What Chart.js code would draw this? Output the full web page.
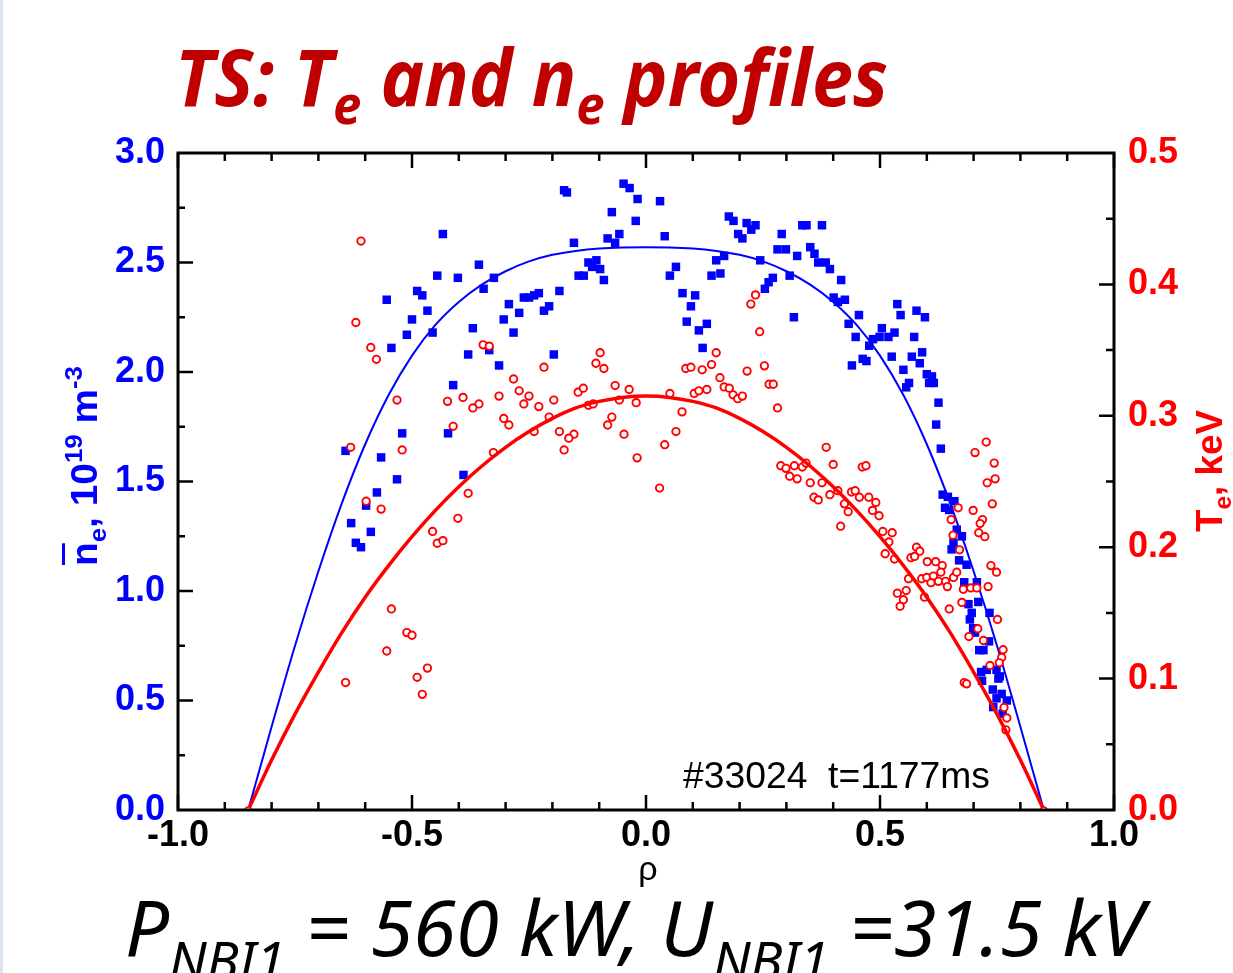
<!DOCTYPE html>
<html>
<head>
<meta charset="utf-8">
<script src="https://cdn.jsdelivr.net/npm/chart.js@4.4.1/dist/chart.umd.min.js"></script>
<style>
  html, body { margin: 0; padding: 0; background: #fff; overflow: hidden; }
  canvas { display: block; }
</style>
</head>
<body>
<canvas id="tsChart" width="1233" height="973"></canvas>
<script>
// tick labels
const rhoTicks = [-1, -0.5, 0, 0.5, 1];
const neTicks = [0, 0.5, 1, 1.5, 2, 2.5, 3];
const teTicks = [0, 0.1, 0.2, 0.3, 0.4, 0.5];

// n_e measurements (blue squares), 10^19 m^-3
const neRho = [-0.434,-0.175,-0.169,-0.554,-0.489,-0.478,-0.446,-0.402,-0.357,-0.325,-0.347,-0.467,-0.500,-0.511,-0.456,-0.544,-0.370,-0.380,-0.335,-0.314,
  -0.412,-0.293,-0.304,-0.283,-0.271,-0.261,-0.250,-0.239,-0.229,-0.207,-0.218,-0.185,-0.197,-0.521,-0.423,-0.642,-0.566,-0.532,-0.390,-0.575,
  -0.598,-0.630,-0.588,-0.620,-0.609,-0.048,-0.035,-0.018,0.030,-0.073,-0.022,-0.057,-0.082,-0.066,-0.154,0.040,-0.123,-0.106,-0.115,-0.098,
  -0.144,-0.133,-0.090,0.064,0.051,0.078,0.105,0.096,0.087,0.113,0.130,0.121,0.177,0.187,0.215,0.234,0.225,0.197,0.206,0.167,
  0.150,0.140,0.159,0.244,0.290,0.281,0.299,0.323,0.271,0.262,0.254,0.307,0.316,0.334,0.343,0.376,0.351,0.360,0.368,0.384,
  0.393,0.417,0.401,0.410,0.425,0.455,0.433,0.448,0.504,0.485,0.499,0.518,0.531,0.477,0.537,0.544,0.578,0.596,0.573,0.525,
  0.568,0.590,0.585,0.463,0.471,0.440,0.550,0.562,0.556,0.600,0.611,0.605,0.615,0.625,0.620,0.630,0.634,0.645,0.659,0.639,
  0.648,0.664,0.675,0.657,0.653,0.669,0.685,0.680,0.707,0.689,0.710,0.696,0.692,0.734,0.699,0.703,0.733,0.712,0.721,0.716,
  0.728,0.749,0.756,0.753,0.718,0.741,0.760,0.771,0.749,0.742,0.762];
const neVal = [2.63,2.83,2.82,2.33,2.37,2.35,2.44,2.43,2.49,2.43,2.38,2.28,2.24,2.17,2.18,2.11,2.20,2.08,2.10,2.03,
  1.94,2.31,2.24,2.18,2.27,2.34,2.34,2.35,2.36,2.30,2.28,2.37,2.08,1.72,1.72,1.64,1.61,1.51,1.53,1.45,
  1.39,1.31,1.27,1.22,1.20,2.86,2.84,2.79,2.78,2.73,2.69,2.63,2.61,2.59,2.59,2.62,2.50,2.51,2.48,2.47,
  2.44,2.44,2.42,2.48,2.44,2.36,2.35,2.30,2.23,2.19,2.22,2.11,2.71,2.69,2.68,2.67,2.65,2.63,2.61,2.53,
  2.51,2.44,2.45,2.51,2.63,2.56,2.56,2.53,2.43,2.41,2.38,2.44,2.25,2.67,2.67,2.67,2.57,2.54,2.50,2.50,
  2.47,2.42,2.34,2.32,2.33,2.26,2.22,2.16,2.20,2.15,2.16,2.16,2.18,2.12,2.31,2.26,2.28,2.25,2.16,2.07,
  2.07,2.09,2.04,2.06,2.05,2.03,2.01,1.95,1.93,1.99,1.98,1.95,1.95,1.86,1.76,1.65,1.44,1.43,1.41,1.38,
  1.37,1.28,1.25,1.22,1.19,1.14,1.12,1.04,1.04,0.94,0.95,0.90,0.87,0.90,0.83,0.81,0.77,0.73,0.73,0.63,
  0.64,0.64,0.61,0.60,0.59,0.55,0.53,0.50,0.51,0.47,0.44];

// T_e measurements (red circles), keV
const teRho = [-0.609,-0.620,-0.588,-0.576,-0.532,-0.631,-0.521,-0.348,-0.335,-0.218,-0.283,-0.271,-0.250,-0.261,-0.229,-0.197,-0.314,-0.391,-0.424,-0.357,
  -0.370,-0.412,-0.304,-0.293,-0.207,-0.239,-0.185,-0.175,-0.326,-0.598,-0.566,-0.380,-0.402,-0.456,-0.446,-0.434,-0.544,-0.511,-0.500,-0.554,
  -0.467,-0.489,-0.478,-0.642,-0.098,-0.107,-0.090,-0.145,-0.134,-0.123,-0.113,-0.066,-0.036,-0.057,-0.021,-0.073,-0.082,-0.154,-0.165,-0.047,
  -0.019,0.029,0.040,0.064,0.077,0.051,0.085,0.096,0.120,0.140,0.150,0.103,0.113,0.130,0.158,0.167,0.178,0.186,0.196,0.206,
  0.216,0.253,0.234,0.224,0.243,0.263,0.272,0.281,0.288,0.299,0.317,0.307,0.323,0.385,0.334,0.342,0.400,0.462,0.470,0.351,
  0.376,0.359,0.368,0.393,0.410,0.439,0.447,0.456,0.476,0.491,0.424,0.432,0.484,0.498,0.416,0.506,0.526,0.519,0.511,0.531,
  0.578,0.585,0.566,0.574,0.601,0.561,0.589,0.600,0.537,0.556,0.550,0.543,0.595,0.727,0.703,0.744,0.729,0.746,0.740,0.667,
  0.699,0.652,0.719,0.714,0.711,0.724,0.656,0.670,0.619,0.633,0.737,0.749,0.614,0.630,0.657,0.664,0.609,0.625,0.640,0.644,
  0.678,0.694,0.707,0.731,0.648,0.675,0.751,0.709,0.690,0.721,0.763,0.760,0.755,0.735,0.680,0.685,0.765,0.771,0.769];
const teVal = [0.433,0.371,0.352,0.343,0.312,0.276,0.274,0.354,0.353,0.337,0.328,0.319,0.315,0.309,0.307,0.312,0.315,0.314,0.311,0.309,
  0.306,0.292,0.298,0.293,0.299,0.288,0.288,0.274,0.272,0.235,0.229,0.241,0.222,0.212,0.203,0.205,0.153,0.135,0.133,0.121,
  0.108,0.101,0.088,0.097,0.348,0.340,0.336,0.318,0.321,0.308,0.309,0.323,0.320,0.312,0.310,0.299,0.293,0.286,0.283,0.286,
  0.268,0.245,0.278,0.288,0.303,0.317,0.336,0.337,0.335,0.339,0.348,0.317,0.319,0.320,0.329,0.322,0.321,0.316,0.313,0.315,
  0.334,0.338,0.392,0.385,0.364,0.324,0.324,0.306,0.262,0.260,0.262,0.254,0.252,0.276,0.261,0.264,0.263,0.261,0.262,0.249,
  0.249,0.238,0.236,0.240,0.243,0.242,0.243,0.238,0.238,0.234,0.233,0.227,0.228,0.224,0.216,0.212,0.211,0.204,0.195,0.191,
  0.200,0.197,0.192,0.193,0.189,0.176,0.176,0.177,0.165,0.167,0.160,0.155,0.162,0.280,0.272,0.264,0.249,0.252,0.233,0.230,
  0.228,0.221,0.221,0.218,0.211,0.208,0.209,0.198,0.189,0.186,0.186,0.181,0.178,0.181,0.177,0.181,0.173,0.174,0.174,0.170,
  0.168,0.169,0.169,0.170,0.153,0.158,0.145,0.138,0.132,0.129,0.122,0.116,0.112,0.110,0.097,0.096,0.078,0.070,0.061];

// fitted profiles
const fitRho = [-0.85,-0.8,-0.75,-0.7,-0.65,-0.6,-0.55,-0.5,-0.45,-0.4,-0.35,-0.3,-0.25,-0.2,-0.15,-0.1,-0.05,0,
  0.05,0.1,0.15,0.2,0.25,0.3,0.35,0.4,0.45,0.5,0.55,0.6,0.65,0.7,0.75,0.8,0.85];
const neFit = [0,0.38,0.75,1.09,1.40,1.67,1.895,2.075,2.215,2.32,2.40,2.46,2.505,2.535,2.553,2.564,2.569,2.57,
  2.569,2.564,2.553,2.535,2.505,2.46,2.40,2.32,2.215,2.075,1.895,1.67,1.40,1.09,0.75,0.38,0];
const teFit = [0,0.038,0.073,0.105,0.135,0.162,0.186,0.208,0.228,0.246,0.262,0.276,0.288,0.298,0.306,0.311,0.314,0.315,
  0.314,0.311,0.306,0.298,0.288,0.276,0.262,0.246,0.228,0.208,0.186,0.162,0.135,0.105,0.073,0.038,0];

const pts = (xs, ys) => xs.map((x, i) => ({ x, y: ys[i] }));

// draws text runs (main / sub / superscript) squeezed to a target width
function drawRuns(ctx, runs, x, y, width, style, family, color) {
    ctx.save();
    let total = 0;
    runs.forEach(r => {
        ctx.font = `${style} ${r[1]}px ${family}`;
        total += ctx.measureText(r[0]).width;
    });
    ctx.translate(x, y);
    ctx.scale(width / total, 1);
    ctx.fillStyle = color;
    ctx.textBaseline = 'alphabetic';
    ctx.textAlign = 'left';
    let cx = 0;
    const spans = [];
    runs.forEach(r => {
        ctx.font = `${style} ${r[1]}px ${family}`;
        ctx.fillText(r[0], cx, r[2]);
        const w = ctx.measureText(r[0]).width;
        spans.push([cx, w]);
        cx += w;
    });
    ctx.restore();
    return spans.map(s => [s[0] * width / total, s[1] * width / total]);
}

const decor = {
    id: 'decor',
    beforeDraw(chart) {
        const ctx = chart.ctx;
        ctx.save();
        ctx.fillStyle = '#ffffff';
        ctx.fillRect(0, 0, chart.width, chart.height);
        ctx.fillStyle = '#dbe5f1';
        ctx.fillRect(0, 0, 3, chart.height);
        ctx.restore();
    },
    afterDraw(chart) {
        const ctx = chart.ctx;
        const a = chart.chartArea;
        const sx = chart.scales.x, sy = chart.scales.y, sy2 = chart.scales.y2;
        ctx.save();
        ctx.strokeStyle = '#000';
        ctx.lineWidth = 3;
        ctx.strokeRect(a.left, a.top, a.right - a.left, a.bottom - a.top);
        ctx.lineWidth = 2.5;
        ctx.beginPath();
        for (let i = -10; i <= 10; i++) {
            const px = sx.getPixelForValue(i / 10);
            const len = i % 5 === 0 ? 15 : 8;
            ctx.moveTo(px, a.bottom); ctx.lineTo(px, a.bottom - len);
            ctx.moveTo(px, a.top); ctx.lineTo(px, a.top + len);
        }
        for (let i = 1; i < 12; i++) {
            const py = sy.getPixelForValue(i * 0.25);
            const len = i % 2 === 0 ? 15 : 7;
            ctx.moveTo(a.left, py); ctx.lineTo(a.left + len, py);
        }
        for (let i = 1; i < 10; i++) {
            const py = sy2.getPixelForValue(i * 0.05);
            const len = i % 2 === 0 ? 15 : 8;
            ctx.moveTo(a.right, py); ctx.lineTo(a.right - len, py);
        }
        ctx.stroke();

        // title
        drawRuns(ctx, [['TS: T', 78, 0], ['e', 54, 18], [' and n', 78, 0], ['e', 54, 18], [' profiles', 78, 0]],
            175, 106, 713, 'italic bold', '"Noto Sans"', '#c00000');

        // shot label
        drawRuns(ctx, [['#33024  t=1177ms', 36, 0]], 683, 788, 307, '', '"Liberation Sans"', '#000');

        // x axis title
        ctx.fillStyle = '#000';
        ctx.font = '34px "Liberation Sans"';
        ctx.textAlign = 'center';
        ctx.fillText('ρ', 648, 880);

        // beam parameters
        drawRuns(ctx, [['P', 76, 0], ['NBI1', 52, 24], [' = 560 kW, U', 76, 0], ['NBI1', 52, 24], [' =31.5 kV', 76, 0]],
            125, 956, 1019, 'italic', '"Noto Sans"', '#000');

        // left axis title
        ctx.save();
        ctx.translate(97, 566);
        ctx.rotate(-Math.PI / 2);
        const sp = drawRuns(ctx, [['n', 36, 0], ['e', 24, 9], [', 10', 36, 0], ['19', 24, -15], [' m', 36, 0], ['-3', 24, -15]],
            0, 0, 200, 'bold', '"Liberation Sans"', '#0000ff');
        ctx.fillStyle = '#0000ff';
        ctx.fillRect(sp[0][0] + 1, -35, sp[0][1] - 2, 3);
        ctx.restore();

        // right axis title
        ctx.save();
        ctx.translate(1222, 532);
        ctx.rotate(-Math.PI / 2);
        drawRuns(ctx, [['T', 36, 0], ['e', 24, 9], [', keV', 36, 0]], 0, 0, 122, 'bold', '"Liberation Sans"', '#ff0000');
        ctx.restore();
        ctx.restore();
    }
};

const tickFont = { family: '"Liberation Sans", Arial, sans-serif', size: 36, weight: 'bold' };

new Chart(document.getElementById('tsChart').getContext('2d'), {
    type: 'scatter',
    data: {
        datasets: [
            {
                label: 'ne',
                data: pts(neRho, neVal),
                yAxisID: 'y',
                pointStyle: 'rect',
                pointRadius: 6,
                borderWidth: 0,
                backgroundColor: '#0000ff',
                order: 4
            },
            {
                label: 'ne fit',
                data: pts(fitRho, neFit),
                yAxisID: 'y',
                showLine: true,
                pointRadius: 0,
                borderColor: '#0000ff',
                borderWidth: 2,
                cubicInterpolationMode: 'monotone',
                order: 3
            },
            {
                label: 'Te',
                data: pts(teRho, teVal),
                yAxisID: 'y2',
                pointStyle: 'circle',
                pointRadius: 3.7,
                borderWidth: 1.9,
                borderColor: '#ff0000',
                backgroundColor: '#ffffff',
                order: 2
            },
            {
                label: 'Te fit',
                data: pts(fitRho, teFit),
                yAxisID: 'y2',
                showLine: true,
                pointRadius: ctx => (ctx.dataIndex === 0 || ctx.dataIndex === fitRho.length - 1) ? 3 : 0,
                pointBorderColor: '#ff0000',
                pointBackgroundColor: '#ffffff',
                pointBorderWidth: 1.5,
                borderColor: '#ff0000',
                borderWidth: 3.5,
                cubicInterpolationMode: 'monotone',
                order: 1
            }
        ]
    },
    options: {
        responsive: false,
        animation: false,
        devicePixelRatio: 1,
        layout: { padding: { top: 153, left: 0, right: 0, bottom: 0 } },
        plugins: { legend: { display: false }, tooltip: { enabled: false }, title: { display: false } },
        scales: {
            x: {
                type: 'linear', min: -1, max: 1,
                afterFit: s => { s.height = 163; },
                afterBuildTicks: s => { s.ticks = rhoTicks.map(v => ({ value: v })); },
                grid: { display: false, drawTicks: false },
                border: { display: false },
                ticks: { font: tickFont, color: '#000', padding: 4, autoSkip: false, maxRotation: 0,
                    callback: v => v.toFixed(1) }
            },
            y: {
                type: 'linear', position: 'left', min: 0, max: 3,
                afterFit: s => { s.width = 178; },
                afterBuildTicks: s => { s.ticks = neTicks.map(v => ({ value: v })); },
                grid: { display: false, drawTicks: false },
                border: { display: false },
                ticks: { font: tickFont, color: '#0000ff', padding: 13, callback: v => v.toFixed(1) }
            },
            y2: {
                type: 'linear', position: 'right', min: 0, max: 0.5,
                afterFit: s => { s.width = 119; },
                afterBuildTicks: s => { s.ticks = teTicks.map(v => ({ value: v })); },
                grid: { display: false, drawTicks: false },
                border: { display: false },
                ticks: { font: tickFont, color: '#ff0000', padding: 14, callback: v => v.toFixed(1) }
            }
        }
    },
    plugins: [decor]
});
</script>
</body>
</html>
